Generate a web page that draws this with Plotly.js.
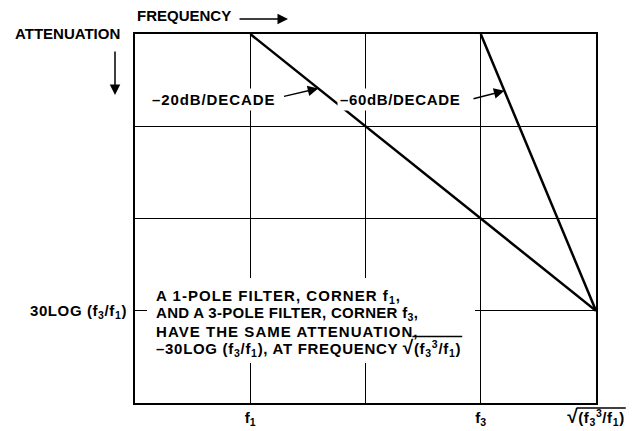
<!DOCTYPE html>
<html><head><meta charset="utf-8">
<script src="https://cdn.plot.ly/plotly-3.0.1.min.js"></script>
<style>html,body{margin:0;padding:0;background:#fff}#chart{width:636px;height:431px}</style>
</head><body><div id="chart"></div>
<script>
// Axis ticks (x: log frequency positions, y: attenuation, increasing downward)
const RAD = '<span style="font-size:19px">√</span>';
const xTickVals = [1, 2, 3, 4];
const xTickText = ['f<sub>1</sub>', '', 'f<sub>3</sub>',
  '<span style="letter-spacing:0.6px">' + RAD + '(f<sub>3</sub><sup>3</sup>/f<sub>1</sub>)</span>'];
const yTickVals = [1, 2, 3];
const yTickText = ['', '', '<span style="letter-spacing:0.6px">30LOG (f<sub>3</sub>/f<sub>1</sub>)</span>'];

// Filter responses
const onePoleX = [1, 4];
const onePoleY = [0, 3];
const threePoleX = [3, 4];
const threePoleY = [0, 3];

// Text
const slopeLabels = ['–20dB/DECADE', '–60dB/DECADE'];
const noteLines = [
  'A 1-POLE FILTER, CORNER f<sub>1</sub>,',
  'AND A 3-POLE FILTER, CORNER f<sub>3</sub>,',
  'HAVE THE SAME ATTENUATION,',
  '–30LOG (f<sub>3</sub>/f<sub>1</sub>), AT FREQUENCY ' + RAD + '(f<sub>3</sub><sup>3</sup>/f<sub>1</sub>)'
];

const FONT = 'Liberation Sans, Arial, Helvetica, sans-serif';
const lineStyle = {color: '#000', width: 2.5};
const spaced = (t, s) => '<span style="letter-spacing:' + s + 'px">' + t + '</span>';

const traces = [
  {x: onePoleX, y: onePoleY, mode: 'lines', line: lineStyle, hoverinfo: 'skip'},
  {x: threePoleX, y: threePoleY, mode: 'lines', line: lineStyle, hoverinfo: 'skip'}
];

const noteY = [2.85, 3.035, 3.22, 3.405];
const noteSpacing = [1.05, 0.3, 1.05, 0.7];
const annotations = [];
noteLines.forEach((t, i) => annotations.push({
  xref: 'x', yref: 'y', x: 0.165, y: noteY[i], text: spaced(t, noteSpacing[i]), showarrow: false,
  xanchor: 'left', yanchor: 'middle', font: {size: 15, color: '#000'}
}));
// slope labels
annotations.push({xref: 'x', yref: 'y', x: 0.685, y: 0.705, text: spaced(slopeLabels[0], 0.9), showarrow: false,
  bgcolor: '#fff', borderpad: 2, font: {size: 15, color: '#000'}});
annotations.push({xref: 'x', yref: 'y', x: 2.295, y: 0.705, text: spaced(slopeLabels[1], 0.65), showarrow: false,
  bgcolor: '#fff', borderpad: 2, font: {size: 15, color: '#000'}});
// slope arrows
annotations.push({xref: 'x', yref: 'y', axref: 'x', ayref: 'y', x: 1.59, y: 0.59, ax: 1.28, ay: 0.68,
  text: '', showarrow: true, arrowhead: 2, arrowsize: 1.4, arrowwidth: 1.5, arrowcolor: '#000'});
annotations.push({xref: 'x', yref: 'y', axref: 'x', ayref: 'y', x: 3.205, y: 0.615, ax: 2.924, ay: 0.705,
  text: '', showarrow: true, arrowhead: 2, arrowsize: 1.4, arrowwidth: 1.5, arrowcolor: '#000'});
// axis direction labels
annotations.push({xref: 'paper', yref: 'paper', x: 0, y: 1.05, text: 'FREQUENCY', showarrow: false,
  xanchor: 'left', yanchor: 'middle', font: {size: 15, color: '#000'}});
annotations.push({xref: 'paper', yref: 'paper', x: 0.3319, y: 1.0407, ax: -50, ay: 0,
  text: '', showarrow: true, arrowhead: 2, arrowsize: 1.4, arrowwidth: 1.5, arrowcolor: '#000'});
annotations.push({xref: 'paper', yref: 'paper', x: -0.028, y: 1.0027, text: 'ATTENUATION', showarrow: false,
  xanchor: 'right', yanchor: 'middle', font: {size: 15, color: '#000'}});
annotations.push({xref: 'paper', yref: 'paper', x: -0.0434, y: 0.8347, ax: 0, ay: -45,
  text: '', showarrow: true, arrowhead: 2, arrowsize: 1.4, arrowwidth: 1.5, arrowcolor: '#000'});

const M = {l: 135, r: 40, t: 34, b: 28, pad: 0};
const noteBox = {type: 'rect', xref: 'x', yref: 'y', x0: 0.104, x1: 2.95, y0: 2.645, y1: 3.566,
  fillcolor: '#fff', line: {width: 0}, layer: 'above'};

const layout = {
  width: 636, height: 431,
  margin: M,
  paper_bgcolor: '#fff', plot_bgcolor: '#fff',
  showlegend: false,
  font: {family: FONT, size: 15, color: '#000', weight: 'bold'},
  xaxis: {range: [0, 4], tickvals: xTickVals, ticktext: xTickText, showgrid: true,
    gridcolor: '#000', gridwidth: 1, zeroline: false, showline: true, mirror: true,
    linecolor: '#000', linewidth: 2, ticks: '', automargin: false, fixedrange: true,
    tickfont: {size: 15, family: FONT, color: '#000', weight: 'bold'}},
  yaxis: {range: [4, 0], tickvals: yTickVals, ticktext: yTickText, showgrid: true,
    gridcolor: '#000', gridwidth: 1, zeroline: false, showline: true, mirror: true,
    linecolor: '#000', linewidth: 2, ticks: '', automargin: false, fixedrange: true,
    ticklabelstandoff: 3,
    tickfont: {size: 15, family: FONT, color: '#000', weight: 'bold'}},
  shapes: [noteBox],
  annotations: annotations
};

// Vinculum over the radicand of every square-root text, placed from the rendered glyphs
function addVinculums(gd) {
  const svg = gd.querySelector('.main-svg');
  const box = svg.getBoundingClientRect();
  const W = 636 - M.l - M.r, H = 431 - M.t - M.b;
  const shapes = [noteBox];
  gd.querySelectorAll('text').forEach(t => {
    const s = t.textContent;
    const k = s.indexOf('√');
    if (k < 0) return;
    const close = s.lastIndexOf(')');
    const m = t.getScreenCTM();
    const toScreen = (x, y) => { const p = svg.createSVGPoint(); p.x = x; p.y = y; return p.matrixTransform(m); };
    const base = t.getStartPositionOfChar(k);
    const a = toScreen(t.getEndPositionOfChar(k).x - 1.5, base.y - 17.5);
    const b = toScreen(t.getEndPositionOfChar(close).x + 1, base.y);
    const isNote = t.classList.contains('annotation-text');
    // x-axis tick label: bar sits just below the plot frame
    const yp = isNote ? (M.t + H - (a.y - box.top)) / H : -5 / H;
    shapes.push({type: 'line', xref: 'paper', yref: 'paper',
      x0: (a.x - box.left - M.l) / W, x1: (b.x - box.left - M.l) / W, y0: yp, y1: yp,
      line: {color: '#000', width: 1.3}, layer: 'above'});
  });
  return Plotly.relayout(gd, {shapes: shapes});
}

Plotly.newPlot('chart', traces, layout, {staticPlot: true, displayModeBar: false}).then(addVinculums);
</script>
</body></html>
